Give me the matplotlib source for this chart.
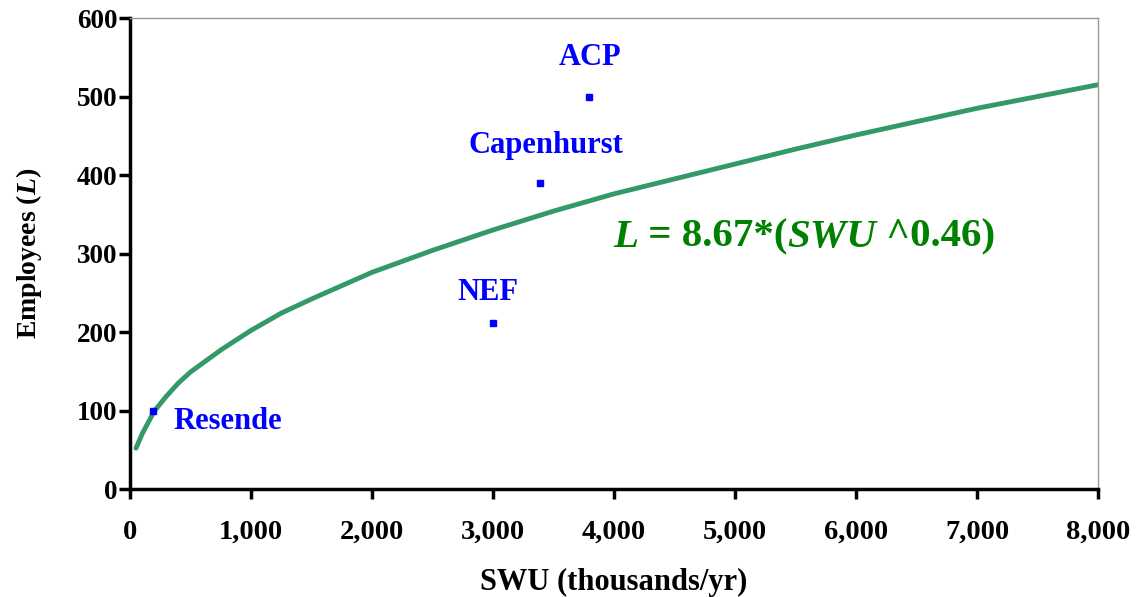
import matplotlib
matplotlib.use("Agg")
import matplotlib.pyplot as plt
from matplotlib.transforms import offset_copy
from matplotlib.ticker import FuncFormatter

# Fitted staffing curve: employees vs. enrichment capacity
swu_fit = [50, 100, 200, 300, 400, 500, 750, 1000, 1250, 1500, 2000, 2500,
           3000, 3500, 4000, 4500, 5000, 5500, 6000, 6500, 7000, 7500, 8000]
emp_fit = [52, 70, 99, 118, 135, 149, 177, 202, 224, 242, 276, 304,
           330, 354, 376, 395, 414, 433, 451, 468, 485, 500, 515]

# Individual enrichment plants
plant_names = ["Resende", "NEF", "Capenhurst", "ACP"]
plant_swu = [190, 3000, 3390, 3790]
plant_emp = [100, 212, 390, 500]

x_ticks = [0, 1000, 2000, 3000, 4000, 5000, 6000, 7000, 8000]
y_ticks = [0, 100, 200, 300, 400, 500, 600]

plt.rcParams.update({
    "font.family": ["Liberation Serif", "DejaVu Serif"],
    "font.weight": "bold",
    "mathtext.fontset": "custom",
    "mathtext.rm": "Liberation Serif:bold",
    "mathtext.bf": "Liberation Serif:bold",
    "mathtext.it": "Liberation Serif:italic:bold",
    "mathtext.bfit": "Liberation Serif:italic:bold",
})

fig = plt.figure(figsize=(11.41, 5.97), dpi=100)
ax = fig.add_axes([0.1139, 0.1809, 0.8484, 0.7889])

ax.plot(swu_fit, emp_fit, color="#339966", lw=3.5, solid_capstyle="round", zorder=2)
ax.plot(plant_swu, plant_emp, ls="none", marker="s", ms=4.5, color="#0000FF", zorder=3)

label_offsets = {
    "Resende": ((15, -8), "left"),
    "NEF": ((-4, 22), "center"),
    "Capenhurst": ((4, 27), "center"),
    "ACP": ((1, 28), "center"),
}
for name, sx, ey in zip(plant_names, plant_swu, plant_emp):
    (dx, dy), ha = label_offsets[name]
    ax.annotate(name, (sx, ey), xytext=(dx, dy), textcoords="offset points",
                ha=ha, va="center", color="#0000FF", fontsize=22,
                fontweight="bold")

ax.set_xlim(0, 8000)
ax.set_ylim(0, 600)
ax.set_xticks(x_ticks)
ax.set_yticks(y_ticks)
ax.xaxis.set_major_formatter(FuncFormatter(lambda v, p: f"{int(v):,}"))

for side in ("left", "bottom"):
    ax.spines[side].set_linewidth(2.5)
    ax.spines[side].set_color("black")
for side in ("top", "right"):
    ax.spines[side].set_linewidth(1.0)
    ax.spines[side].set_color("#999999")

ax.tick_params(axis="y", direction="out", length=8, width=2.5, pad=1, labelsize=19.5)
ax.tick_params(axis="x", direction="out", length=7, width=2.5, pad=15, labelsize=20.5)
for lab in ax.get_xticklabels() + ax.get_yticklabels():
    lab.set_fontweight("bold")

ax.set_xlabel("SWU (thousands/yr)", fontsize=22, fontweight="bold", labelpad=17)
ax.set_ylabel(r"Employees ($\mathbfit{L}$)", fontsize=20, fontweight="bold", labelpad=24)

# Fitted equation, with italic variable names
fig.canvas.draw()
renderer = fig.canvas.get_renderer()
pieces = [("L", "italic"), (" = 8.67*(", "normal"), ("SWU", "italic"), (" ^0.46)", "normal")]
tr = ax.transAxes
for s, style in pieces:
    t = ax.text(0.499, 0.535, s, transform=tr, fontsize=29.5, fontweight="bold",
                fontstyle=style, color="#008000", va="center", ha="left")
    t.draw(renderer)
    ext = t.get_window_extent(renderer)
    tr = offset_copy(t.get_transform(), x=ext.width, units="dots", fig=fig)

fig.savefig("out.png", dpi=100)
